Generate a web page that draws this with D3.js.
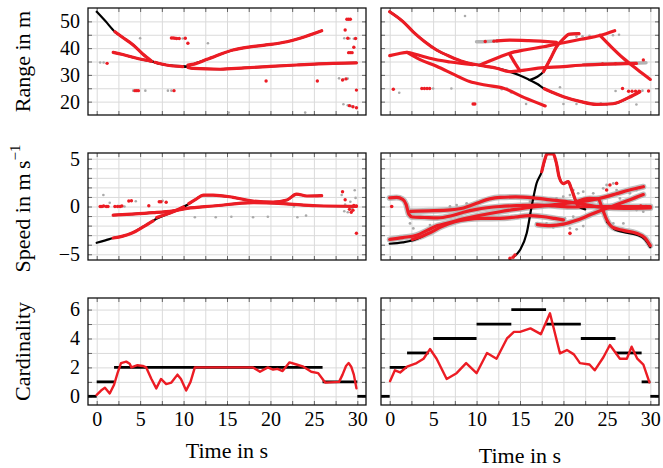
<!DOCTYPE html>
<html>
<head>
<meta charset="utf-8">
<script src="https://cdn.jsdelivr.net/npm/d3@7"></script>
<style>
  body { margin: 0; background: #fff; }
  svg text { fill: #000; }
</style>
</head>
<body>
<svg id="chart" width="663" height="468"></svg>
<script>
// axis ticks and grid
var timeTicks = [0, 5, 10, 15, 20, 25, 30];
var timeGrid = [0, 2.5, 5, 7.5, 10, 12.5, 15, 17.5, 20, 22.5, 25, 27.5, 30];
var rangeTicks = [20, 30, 40, 50];
var rangeGrid = [20, 25, 30, 35, 40, 45, 50];
var speedTicks = [-5, 0, 5];
var speedGrid = [-5, -4, -3, -2, -1, 0, 1, 2, 3, 4, 5];
var cardTicks = [0, 2, 4, 6];
var cardGrid = [0, 1, 2, 3, 4, 5, 6];

// ---- scenario 1 (left column) ----
var rangeTruth1 = [
  [[0,53.6],[1,50.1],[2.1,46.1],[3,44],[4.2,41.2],[5.3,37.8],[6.5,34.9],[8,33.7],[10.2,33.1],[11.1,32.4],[14.2,32.1],[17,32.6],[19.6,33.1],[23,33.7],[27.2,34.3],[29.9,34.5]],
  [[1.9,38.4],[3,37.6],[4.5,36.3],[6.5,34.9],[8,33.7],[10.2,33.1],[11,33.9],[12.7,35.8],[15.7,39.3],[17.5,40.4],[19.5,41.2],[21.9,42.4],[23.5,43.8],[25.9,46.5]]
];
var rangeEst1 = [
  [[2.1,46.1],[3,44],[4.2,41.2],[5.3,37.8],[6.3,35.2]],
  [[1.9,38.4],[3,37.6],[4.5,36.3],[6.3,35.1]],
  [[6.7,34.7],[8,33.7],[9.9,33.1]],
  [[10.5,33.7],[11,33.9],[12.7,35.8],[15.7,39.3],[17.5,40.4],[19.5,41.2],[21.9,42.4],[23.5,43.8],[25.9,46.5]],
  [[10.5,32.8],[11.1,32.4],[14.2,32.1],[17,32.6],[19.6,33.1],[23,33.7],[27.2,34.3],[29.9,34.5]]
];
var rangeMeas1 = [[0.4,34.6],[0.8,34.6],[5,43.7],[4.2,24.1],[5.6,24.1],[8.2,24.1],[8.6,24.1],[12.8,41.8],[15.2,15.9],[24,15.9],[27.9,28.7],[28.5,43.7],[29.1,43.6],[29.6,43.5],[28.4,28.3],[28.9,28.6],[28.4,19],[28.9,18.6],[29.3,18.3],[9.3,43.7],[9.9,43.6]];
var rangeClutter1 = [[1.2,34.3],[4.4,24.1],[4.6,24.1],[4.8,24.1],[8.9,24.1],[8.6,43.8],[8.8,43.8],[9.0,43.7],[9.2,43.6],[9.5,43.6],[10.2,43.7],[10.5,41.8],[19.5,27.7],[25.4,27.7],[28.8,50.8],[29.0,50.8],[29.2,50.8],[28.6,46.8],[28.9,43.7],[29.8,43.6],[29.6,40.3],[29,38.3],[29.2,38.3],[29.4,38.3],[28.3,28.1],[28.7,28.5],[29.9,24.3],[29.1,18.5],[29.5,18.1],[29.9,17.7]];

var speedTruth1 = [
  [[0,-3.8],[1,-3.55],[1.9,-3.3],[3,-3.1],[4,-2.8],[5.4,-2.1],[7,-1.24],[8.8,-0.55],[10.4,0.15],[11.4,0.75],[12.3,1.2],[13.4,1.2],[15.7,0.96],[18,0.57],[20.3,0.47],[21.9,0.68],[23,1.3],[24.2,1.1],[25.9,1.13]],
  [[1.9,-0.9],[4,-0.8],[6.5,-0.65],[8.8,-0.45],[10.4,-0.2],[13.4,0.05],[18,0.4],[21.5,0.3],[25.3,0.08],[29.9,0.02]]
];
var speedEst1 = [
  [[1.9,-3.3],[3,-3.1],[4,-2.8],[5.4,-2.1],[6.5,-1.5]],
  [[6.9,-1.15],[8.8,-0.55],[10,-0.05]],
  [[10.6,0.3],[11.4,0.75],[12.3,1.2],[13.4,1.2],[15.7,0.96],[18,0.57],[20.3,0.47],[21.9,0.68],[23,1.3],[24.2,1.1],[25.9,1.13]],
  [[1.9,-0.9],[4,-0.8],[6.5,-0.65],[8.8,-0.45],[10.4,-0.2],[13.4,0.05],[18,0.4],[21.5,0.3],[25.3,0.08],[29.9,0.02]]
];
var speedMeas1 = [[0.77,1.2],[1.5,0.4],[2.5,0.05],[3.2,0.0],[4.5,0.55],[7.6,0.6],[11.3,-1.13],[13.7,-1.13],[15.5,-1.07],[18,-1.13],[19.7,-1.07],[23.1,-1.13],[24.1,-0.95],[22.7,0],[28.2,1.2],[28.6,0.2],[29.2,0.5],[29.7,1.7],[28.9,-0.6],[29.4,-0.2],[28.5,-0.5],[29.8,0.9]];
var speedClutter1 = [[0.4,0],[0.6,0],[0.8,0.05],[1.1,0],[1.3,0],[2.1,0],[2.4,0],[2.7,0],[2.9,0.05],[3.7,0.57],[4.0,0.6],[6.0,0.08],[7.2,0.5],[7.4,0.5],[8,0.45],[28.3,1.55],[28.6,0.7],[29.1,-0.3],[29.3,-0.6],[29.5,-0.4],[29.9,-2.8],[29.6,0.1],[29.9,0.05]];

// [start, end, count]
var cardTruth1 = [[-1,0,0],[0,2,1],[2,26,2],[26,30,1],[30,31,0]];
var cardEst1 = [[0,0.1],[0.5,0.4],[0.95,0.6],[1.5,0.2],[2,0.8],[2.4,1.6],[2.8,2.3],[3.4,2.4],[3.8,2.25],[4,2.0],[4.7,2.15],[5.3,2.1],[5.7,2.0],[6.3,1.2],[6.86,0.55],[7.4,1.2],[8,0.85],[8.6,0.95],[9.3,1.5],[9.7,1.2],[10.3,0.4],[10.8,1.0],[11.3,2.0],[18,2.0],[18.8,1.7],[19.7,2.0],[20.3,1.85],[20.8,1.9],[21.4,1.75],[22.2,2.35],[23,2.2],[23.8,2.05],[24.7,1.7],[25.5,1.6],[26.3,0.95],[27.9,1.0],[28.3,1.5],[28.7,2.1],[29,2.3],[29.3,2.05],[29.6,1.5],[29.9,0.55]];

// ---- scenario 2 (right column) ----
var rangeTruth2 = [
  [[0,53.6],[1.5,50],[2.7,46.1],[4,42.5],[5.4,39.3],[7,36.8],[8.5,34.9],[10.5,33.5],[12.3,32.5],[13.8,31.2],[15,29.8],[16.1,28.1],[17,26.6],[17.7,25],[19,23.1],[20,21.8],[22,20],[23.8,19],[25.7,19.2],[27.5,21.5],[28.8,23.7]],
  [[16.1,28.1],[17,29.3],[17.7,31.2],[18.5,36],[19.2,40.5],[20,43.5],[20.7,45.2],[21.8,45.4]],
  [[8.5,34.7],[10,33.7],[10.6,33.9]]
];
var rangeEst2 = [
  [[0,53.6],[1.5,50],[2.7,46.1],[4,42.5],[5.4,39.3],[7,36.8],[8.5,34.9],[10.5,33.5],[12.3,32.5],[13.8,31.2],[15.5,31.8],[17.1,32.5],[20,33.1],[22.3,33.7],[25,34],[28.4,34.3]],
  [[0,37.2],[1,37.9],[2,38.4],[3.2,37.5],[4.6,36.2],[7,34.8],[9.6,33.8]],
  [[10.6,34],[11.5,35.2],[12.5,36.5],[13.8,38.1],[15.5,39.3],[17.7,40.5],[20,42],[22,43.3],[24.2,44.7],[25.9,46.5]],
  [[2,38.4],[3.5,35.7],[5.4,33.2],[7.5,30],[9.2,27.5],[11,26.2],[13.1,25],[15.5,21.5],[17.9,18.4]],
  [[12.3,42.7],[13.8,43],[16,42.8],[19.2,42.2]],
  [[17.7,31.2],[18.5,36],[19.2,40.5],[20,43.5],[20.7,45.2],[21.8,45.4]],
  [[13.8,37.8],[14.4,34.5],[15,31.5]],
  [[24.2,44.8],[25.5,40.5],[26.9,36.2],[28.5,32],[30,28.3]],
  [[17.8,24.8],[19,23.1],[20,21.8],[22,20],[23.8,19],[25.7,19.2],[27.5,21.5],[28.8,23.7]]
];
var rangeMeasLines2 = [
  [[10,42.4],[11.2,42.5],[12.4,42.7]],
  [[22.3,33.8],[25,34.1],[27,34.3],[29.5,34.5]]
];
var rangeMeas2 = [[1.1,23.3],[5.0,24.9],[7.1,24.9],[8.67,52],[12.9,24.6],[14.0,23.4],[13.5,24.9],[15.7,19.1],[19.6,25.4],[20,19.1],[21.5,19.1],[21.5,44.3],[22.2,44.4],[23,44.6],[25.7,44.8],[26.4,45],[28.4,18.9],[26.0,24],[15.6,42.9],[19.6,41.8],[24.3,19.4],[25,18.8],[29.1,24.1]];
var rangeClutter2 = [[0.42,24.6],[3.7,24.9],[4.0,24.9],[4.3,24.9],[4.6,24.9],[9.6,19.1],[9.8,19.1],[11,42.5],[12,42.6],[29.2,35.6],[26.8,24.9],[27.5,23.9],[27.9,23.9],[28.3,23.9],[28.7,23.9],[29.8,24],[24.5,34.1],[26,34.2],[27.3,34.4]];

var speedTruth2 = [
  [[14.2,-5.3],[15,-4.56],[15.77,-2.8],[16.34,0],[16.9,2.4],[17.5,3.64],[17.9,5.04],[18.1,5.5],[18.8,5.5],[19.2,4.5],[19.5,3.1],[19.98,2.4],[20.55,2.6],[20.9,1.9],[21.3,0.86],[21.7,0],[22.5,-0.3]],
  [[0,-3.9],[1.5,-3.75],[2.8,-3.5],[4,-3.0]],
  [[25,-1.6],[26,-2.45],[27,-2.7],[28.4,-2.95],[29.4,-3.45],[30,-4.25]]
];
var speedEst2 = [
  [[0,0.9],[0.8,0.95],[1.5,0.75],[1.9,0.2],[2.2,-0.8],[2.6,-1.1],[4,-1.15],[5.5,-1.2],[7,-1.0],[8.5,-0.6],[10,-0.3],[12.7,0],[15,0.1],[17,0.15],[19,0.05],[21,-0.05],[23,0],[25,0],[27.5,0],[30,0]],
  [[2.4,-0.5],[4.5,-0.45],[7,-0.35],[8.5,-0.15],[10,0.33],[11.5,0.8],[12.7,0.96],[14.5,1.0],[16.5,0.9],[18.5,0.7],[20.5,0.5],[22.5,0.2],[24.5,-0.1],[27,-0.2],[30,-0.15]],
  [[0,-3.45],[1.5,-3.25],[3.1,-3.0],[4.3,-2.5],[5.5,-2.0],[6.6,-1.75],[8.5,-1.3],[10,-1.0],[12.7,-0.55],[14.5,-0.3],[16.5,-0.05],[18.5,0.15],[20.5,0.35],[22.5,0.55],[24.2,0.86],[26,1.3],[27.5,1.7],[29.2,2.07]],
  [[2.6,-3.45],[4,-3.0],[4.5,-2.8],[6,-2.1],[7.5,-1.6],[9,-1.35],[10.5,-1.25],[12.7,-1.24],[14.5,-1.1],[16,-0.95],[17.5,-1.05],[19,-1.25],[20,-1.4]],
  [[17,-1.9],[18.5,-2.0],[20,-1.85],[21.5,-1.45],[23,-0.9],[24.5,-0.35],[26,0.15],[27.5,0.65],[29.2,1.25]],
  [[21.5,0.5],[23,0.85],[24,0.8],[24.5,-0.3],[25,-1.4],[25.7,-2.2],[26.9,-2.5],[28.4,-2.8],[29.4,-3.3],[30,-4.1]],
  [[17.5,3.64],[17.9,5.04],[18.1,5.5],[18.8,5.5],[19.2,4.5],[19.5,3.1],[19.98,2.4],[20.55,2.6],[20.9,1.9],[21.3,0.86],[21.7,0]]
];
var speedMeas2 = [[16.15,0.5],[18.06,0.68],[19.2,0.85],[19.6,0.33],[19.98,1.03],[20.75,1.2],[21.13,1.72],[21.7,1.38],[22.28,1.55],[22.67,0.85],[23.43,1.38],[24.58,1.9],[24.97,2.25],[25.74,2.42],[26.12,1.72],[26.5,0.85],[27.65,1.38],[28.42,1.72],[28.8,1.9],[18.06,-1.77],[18.83,-2.19],[19.98,-1.94],[20.75,-2.29],[21.52,-2.39],[22.28,-2.05],[20.17,-1.24],[21.13,-1.07],[17.68,-1.07],[16.91,-1.77],[25.74,-1.77],[26.9,-1.77],[28.42,-0.37],[29.19,-0.54],[6.94,0],[7.71,0.15],[8.86,0.33],[9.24,0],[2.34,-1.77],[2.72,-2.29],[4.64,-1.94]];
var speedClutter2 = [[20.75,-2.81],[13.85,-5.43],[14.42,-5.08],[14.2,-5.3],[25.35,2.25],[26.12,2.42],[24.97,1.72],[0.23,0],[29.5,0],[29.9,-0.05],[28.9,0.05]];

var cardTruth2 = [[-1,0,0],[0,2,2],[2,4.5,3],[5,10,4],[10,14,5],[14,18,6],[18,22,5],[22,26,4],[26,29,3],[29,30,1],[30,31,0]];
var cardEst2 = [[0.04,1.05],[0.6,1.8],[1.2,1.65],[2.0,2.05],[3.1,2.3],[3.9,2.6],[4.64,3.27],[5.4,2.6],[6.56,1.2],[7.7,1.6],[8.8,2.3],[10.0,1.6],[11.2,3.0],[12.3,2.6],[13.5,4.0],[14.3,4.46],[15,4.46],[16.2,4.7],[17.4,4.3],[18.45,5.74],[19.6,2.97],[20.4,3.2],[21.2,2.9],[21.9,2.3],[23,2.2],[23.6,1.8],[24.6,2.7],[25.35,3.55],[26.5,2.6],[27.3,2.6],[27.85,3.43],[28.5,2.6],[29.2,2.2],[29.9,0.97]];

// ---- layout ----
// no serif face is installed, so fall back to a narrow sans
var font = "'Liberation Serif', 'DejaVu Serif', 'Liberation Sans', Arial, sans-serif";
var svg = d3.select("#chart").style("font-family", font);
var colX = [88, 381], rowY = [8, 153, 298];
var pw = 278, ph = 107;
var red = "#ec1c24";

var x = d3.scaleLinear().domain([-1, 31]).range([0, pw]);
var yRange = d3.scaleLinear().domain([15, 55]).range([ph, 0]);
var ySpeed = d3.scaleLinear().domain([-5.6, 5.6]).range([ph, 0]);
var yCard = d3.scaleLinear().domain([-0.6, 6.8]).range([ph, 0]);

function panel(col, row, y, grid, ticks) {
    var g = svg.append("g")
        .attr("transform", "translate(" + colX[col] + "," + rowY[row] + ")");
    var id = "clip" + col + row;
    g.append("clipPath").attr("id", id)
        .append("rect").attr("width", pw).attr("height", ph);

    // grid lines
    g.append("g").attr("class", "grid")
        .attr("transform", "translate(0," + ph + ")")
        .call(d3.axisBottom(x).tickValues(timeGrid).tickSize(-ph).tickFormat(""));
    g.append("g").attr("class", "grid")
        .call(d3.axisLeft(y).tickValues(grid).tickSize(-pw).tickFormat(""));
    g.selectAll(".grid line").attr("stroke", "#dadada").attr("stroke-width", 1);
    g.selectAll(".grid .domain").remove();

    // inward tick marks on all four sides
    var tk = [
        g.append("g").attr("transform", "translate(0," + ph + ")").call(d3.axisBottom(x).tickValues(timeGrid).tickSize(-4).tickFormat("")),
        g.append("g").call(d3.axisTop(x).tickValues(timeGrid).tickSize(-4).tickFormat("")),
        g.append("g").call(d3.axisLeft(y).tickValues(grid).tickSize(-4).tickFormat("")),
        g.append("g").attr("transform", "translate(" + pw + ",0)").call(d3.axisRight(y).tickValues(grid).tickSize(-4).tickFormat(""))
    ];
    tk.forEach(function (a) {
        a.select(".domain").remove();
        a.selectAll("line").attr("stroke", "#666").attr("stroke-width", 1);
    });

    // tick labels
    if (col === 0) {
        var ya = g.append("g").call(d3.axisLeft(y).tickValues(ticks).tickSize(0).tickPadding(8));
        ya.attr("font-family", font).attr("font-size", 20);
        ya.select(".domain").remove();
    }
    if (row === 2) {
        var xa = g.append("g").attr("transform", "translate(0," + ph + ")")
            .call(d3.axisBottom(x).tickValues(timeTicks).tickSize(0).tickPadding(7));
        xa.attr("font-family", font).attr("font-size", 20);
        xa.select(".domain").remove();
    }

    var plot = g.append("g").attr("clip-path", "url(#" + id + ")");
    return { g: g, plot: plot, y: y };
}

function frame(p) {
    p.g.append("rect").attr("width", pw).attr("height", ph)
        .attr("fill", "none").attr("stroke", "#111").attr("stroke-width", 1.3);
}

function lines(p, data, color, width, opacity) {
    var line = d3.line().x(function (d) { return x(d[0]); })
        .y(function (d) { return p.y(d[1]); })
        .curve(d3.curveMonotoneX);
    p.plot.selectAll(null).data(data).enter().append("path")
        .attr("d", line).attr("fill", "none")
        .attr("stroke", color).attr("stroke-width", width)
        .attr("stroke-opacity", opacity || 1)
        .attr("stroke-linecap", "round").attr("stroke-linejoin", "round");
}

function dots(p, data, color, r) {
    p.plot.selectAll(null).data(data).enter().append("circle")
        .attr("cx", function (d) { return x(d[0]); })
        .attr("cy", function (d) { return p.y(d[1]); })
        .attr("r", r).attr("fill", color);
}

function card(p, truth, est) {
    p.plot.selectAll(null).data(truth).enter().append("line")
        .attr("x1", function (d) { return x(d[0]); })
        .attr("x2", function (d) { return x(d[1]); })
        .attr("y1", function (d) { return p.y(d[2]); })
        .attr("y2", function (d) { return p.y(d[2]); })
        .attr("stroke", "#000").attr("stroke-width", 2.8);
    var line = d3.line().x(function (d) { return x(d[0]); })
        .y(function (d) { return p.y(d[1]); });
    p.plot.append("path").datum(est).attr("d", line)
        .attr("fill", "none").attr("stroke", red).attr("stroke-width", 2.4)
        .attr("stroke-linejoin", "round").attr("stroke-linecap", "round");
}

// top row: range
var p = panel(0, 0, yRange, rangeGrid, rangeTicks);
dots(p, rangeMeas1, "#aaa", 1.3);
lines(p, rangeTruth1, "#000", 2.2);
lines(p, rangeEst1, red, 3.2);
dots(p, rangeClutter1, red, 1.7);
frame(p);

p = panel(1, 0, yRange, rangeGrid, rangeTicks);
lines(p, rangeMeasLines2, "#b3b3b3", 3.5);
dots(p, rangeMeas2, "#aaa", 1.3);
lines(p, rangeTruth2, "#000", 2.2);
lines(p, rangeEst2, red, 3.2);
dots(p, rangeClutter2, red, 1.7);
frame(p);

// middle row: speed
p = panel(0, 1, ySpeed, speedGrid, speedTicks);
dots(p, speedMeas1, "#aaa", 1.3);
lines(p, speedTruth1, "#000", 2.2);
lines(p, speedEst1, red, 3.2);
dots(p, speedClutter1, red, 1.7);
frame(p);

p = panel(1, 1, ySpeed, speedGrid, speedTicks);
lines(p, speedEst2.slice(0, 6), "#b0b0b0", 6, 0.8);
dots(p, speedMeas2, "#aaa", 1.4);
lines(p, speedTruth2, "#000", 2.2);
lines(p, speedEst2, red, 3.2);
dots(p, speedClutter2, red, 1.8);
frame(p);

// bottom row: cardinality
p = panel(0, 2, yCard, cardGrid, cardTicks);
card(p, cardTruth1, cardEst1);
frame(p);

p = panel(1, 2, yCard, cardGrid, cardTicks);
card(p, cardTruth2, cardEst2);
frame(p);

// axis titles
function ylabel(cy, txt) {
    return svg.append("text")
        .attr("transform", "translate(30," + cy + ") rotate(-90)")
        .attr("text-anchor", "middle").attr("font-size", 22)
        .attr("font-family", font).text(txt);
}
ylabel(rowY[0] + ph / 2, "Range in m");
var sp = ylabel(rowY[1] + ph / 2 + 2, "Speed in m\u2009s");
sp.append("tspan").attr("dy", -10).attr("font-size", 15).text("\u22121");
ylabel(rowY[2] + ph / 2, "Cardinality");

svg.append("text").attr("x", colX[0] + pw / 2).attr("y", 458)
    .attr("text-anchor", "middle").attr("font-size", 22)
    .attr("font-family", font).text("Time in s");
svg.append("text").attr("x", colX[1] + pw / 2).attr("y", 463)
    .attr("text-anchor", "middle").attr("font-size", 22)
    .attr("font-family", font).text("Time in s");
</script>
</body>
</html>
